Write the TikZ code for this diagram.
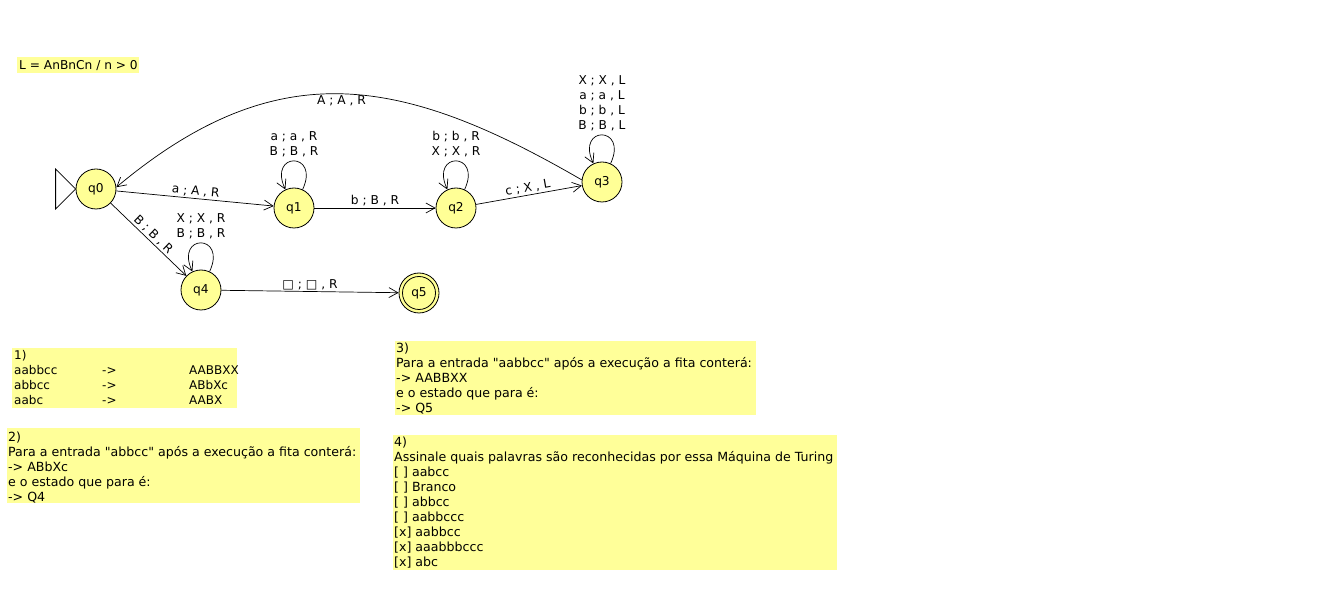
\documentclass[tikz,border=0pt]{standalone}
\usepackage{fontspec}
\setmainfont{DejaVu Sans}
\newfontfamily\plainfont{DejaVu Sans}[Ligatures=ResetAll]
\usetikzlibrary{arrows.meta}
\definecolor{stfill}{RGB}{255,255,150}
\definecolor{notefill}{RGB}{255,255,153}
\newcommand{\qq}{{\plainfont\char"0022}}
\begin{document}
\begin{tikzpicture}[x=1pt,y=-1pt,
  font=\fontsize{12.2}{15}\selectfont,
  state/.style={circle, draw, line width=0.8pt, fill=stfill, minimum size=40pt, inner sep=0pt},
  edge/.style={draw, line width=0.7pt, -{Straight Barb[length=9pt,width=10pt,line width=0.7pt]}},
  lbl/.style={inner sep=1.5pt, font=\fontsize{12.2}{15}\selectfont},
  txt/.style={anchor=base west, inner sep=0pt, font=\fontsize{12.6}{15}\selectfont}]
\useasboundingbox[fill=white] (0,0) rectangle (1339,593);

% title
\fill[notefill] (17,57) rectangle (139,73);
\node[txt, font=\fontsize{12.2}{15}\selectfont] (title) at (19,69.5) {L = AnBnCn / n > 0};

% states
\node[state] (q0) at (96,189) {q0};
\node[state] (q1) at (294,208) {q1};
\node[state] (q2) at (456,208) {q2};
\node[state] (q3) at (602,182) {q3};
\node[state] (q4) at (201,290) {q4};
\node[state] (q5) at (419,293) {q5};
\node[circle, draw, line width=0.8pt, minimum size=33pt, inner sep=0pt] (q5in) at (q5) {};

% initial marker
\draw[line width=0.8pt] (q0.west) -- ++(-20,-20) -- ++(0,40) -- cycle;

% transitions
\draw[edge] (q0) -- node[lbl, sloped, above] {a ; A , R} (q1);
\draw[edge] (q1) -- node[lbl, above] {b ; B , R} (q2);
\draw[edge] (q2) -- node[lbl, sloped, above] {c ; X , L} (q3);
\draw[edge] (q0) -- node[lbl, sloped, above, pos=0.5] {B ; B , R} (q4);
\draw[edge] (q4) -- node[lbl, above] {□ ; □ , R} (q5);
\draw[edge] (q3.174) .. controls (401,75) and (277,53) .. node[lbl, below, pos=0.5] {A ; A , R} (q0.5);

% loops
\draw[edge] (q1.65) .. controls +(65:42pt) and +(115:42pt) .. node[lbl, above=2.5pt, align=center] {a ; a , R\\B ; B , R} (q1.115);
\draw[edge] (q2.65) .. controls +(65:42pt) and +(115:42pt) .. node[lbl, above=2.5pt, align=center] {b ; b , R\\X ; X , R} (q2.115);
\draw[edge] (q3.65) .. controls +(65:42pt) and +(115:42pt) .. node[lbl, above=2.5pt, align=center] {X ; X , L\\a ; a , L\\b ; b , L\\B ; B , L} (q3.115);
\draw[edge] (q4.65) .. controls +(65:42pt) and +(115:42pt) .. node[lbl, above=2.5pt, align=center] {X ; X , R\\B ; B , R} (q4.115);

% note 1
\fill[notefill] (12,348) rectangle (237,408);
\node[txt, font=\fontsize{12}{15}\selectfont] (n1h) at (14,359.5) {1)};
\foreach \a/\b [count=\i] in {aabbcc/AABBXX, abbcc/ABbXc, aabc/AABX}{
  \node[txt, font=\fontsize{12}{15}\selectfont] (n1a\i) at (14,359.5+15*\i) {\a};
  \node[txt, font=\fontsize{12}{15}\selectfont] (n1m\i) at (102,359.5+15*\i) {->};
  \node[txt, font=\fontsize{12}{15}\selectfont] (n1b\i) at (189,359.5+15*\i) {\b};
}

% note 2
\fill[notefill] (7,428) rectangle (360,503);
\foreach \t [count=\i] in {{2)}, {Para a entrada \qq abbcc\qq{} após a execução a fita conterá:}, {-> ABbXc}, {e o estado que para é:}, {-> Q4}}{
  \node[txt] (n2l\i) at (8,426.5+15*\i) {\t};
}

% note 3
\fill[notefill] (395,341) rectangle (756,415);
\foreach \t [count=\i] in {{3)}, {Para a entrada \qq aabbcc\qq{} após a execução a fita conterá:}, {-> AABBXX}, {e o estado que para é:}, {-> Q5}}{
  \node[txt] (n3l\i) at (396,337.5+15*\i) {\t};
}

% note 4
\fill[notefill] (393,435) rectangle (837,570);
\foreach \t [count=\i] in {{4)}, {Assinale quais palavras são reconhecidas por essa Máquina de Turing}, {[ ] aabcc}, {[ ] Branco}, {[ ] abbcc}, {[ ] aabbccc}, {[x] aabbcc}, {[x] aaabbbccc}, {[x] abc}}{
  \node[txt] (n4l\i) at (394,431.5+15*\i) {\t};
}
\end{tikzpicture}
\end{document}
